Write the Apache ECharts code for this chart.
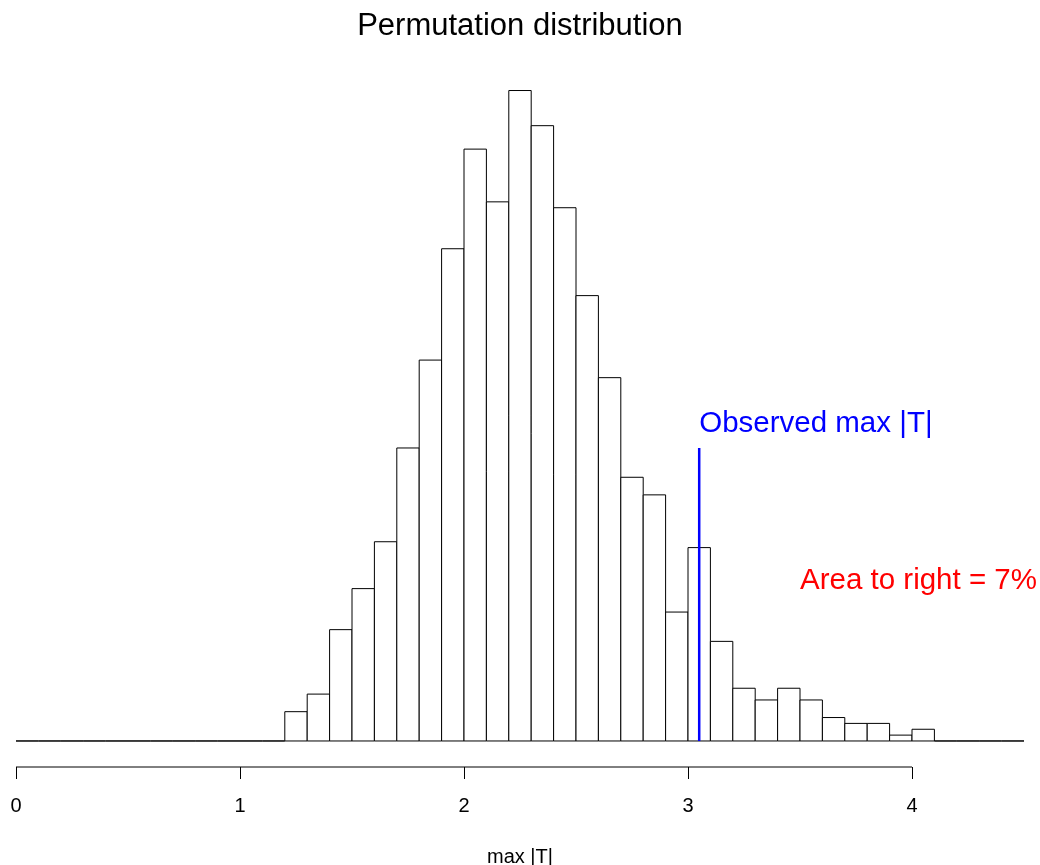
<!DOCTYPE html>
<html>
<head>
<meta charset="utf-8">
<script src="https://cdn.jsdelivr.net/npm/echarts@6/dist/echarts.min.js"></script>
<style>
html,body{margin:0;padding:0;background:#fff;}
#chart{width:1040px;height:865px;}
</style>
</head>
<body>
<div id="chart"></div>
<script>
// ---- data ----
var binStarts = [0.0,0.1,0.2,0.3,0.4,0.5,0.6,0.7,0.8,0.9,
                 1.0,1.1,1.2,1.3,1.4,1.5,1.6,1.7,1.8,1.9,
                 2.0,2.1,2.2,2.3,2.4,2.5,2.6,2.7,2.8,2.9,
                 3.0,3.1,3.2,3.3,3.4,3.5,3.6,3.7,3.8,3.9,
                 4.0,4.1,4.2,4.3,4.4];
var counts = [0,0,0,0,0,0,0,0,0,0,
              0,0,5,8,19,26,34,50,65,84,
              101,92,111,105,91,76,62,45,42,22,
              33,17,9,7,9,7,4,3,3,1,
              2,0,0,0,0];
var binWidth = 0.1;
var xTickValues = [0,1,2,3,4];
var observedMaxT = 3.05;
var observedLineHeight = 50;
var titleText = 'Permutation distribution';
var xAxisTitle = 'max |T|';
var observedLabel = 'Observed max |T|';
var areaLabel = 'Area to right = 7%';

// ---- chart ----
var FONT = '"Liberation Sans", Arial, Helvetica, sans-serif';
var yTop = Math.max.apply(null, counts);
var yMin = -0.04 * yTop, yMax = 1.04 * yTop;

var chart = echarts.init(document.getElementById('chart'), null, {renderer: 'canvas'});

var histData = binStarts.map(function (s, i) { return [s, counts[i]]; });

var option = {
  animation: false,
  backgroundColor: '#ffffff',
  title: {
    text: titleText,
    left: 515, top: 5.5,
    textAlign: 'center',
    textStyle: {fontFamily: FONT, fontSize: 31, fontWeight: 'normal', color: '#000'}
  },
  grid: {left: 16, top: 64.5, width: 1008, height: 702.5,
         containLabel: false, outerBoundsMode: 'none'},
  xAxis: {
    type: 'value', min: 0, max: 4.5,
    axisLine: {show: false, onZero: false},
    splitLine: {show: false},
    axisTick: {show: true, inside: false, length: 12, customValues: xTickValues,
               lineStyle: {color: '#000', width: 1}},
    axisLabel: {show: true, customValues: xTickValues, margin: 29,
                fontFamily: FONT, fontSize: 20, color: '#000'},
    name: xAxisTitle, nameLocation: 'middle', nameGap: 80,
    nameTextStyle: {fontFamily: FONT, fontSize: 20, color: '#000'}
  },
  yAxis: {
    type: 'value', min: yMin, max: yMax, show: false,
    splitLine: {show: false}
  },
  series: [
    {
      type: 'custom',
      data: histData,
      encode: {x: 0, y: 1},
      renderItem: function (params, api) {
        var x0 = api.value(0), c = api.value(1);
        var p0 = api.coord([x0, c]);
        var p1 = api.coord([x0 + binWidth, 0]);
        return {
          type: 'rect',
          shape: {x: p0[0], y: p0[1], width: p1[0] - p0[0], height: p1[1] - p0[1]},
          style: {fill: '#ffffff', stroke: '#000000', lineWidth: 1}
        };
      },
      z: 2
    },
    {
      // axis line spanning the tick range only
      type: 'line',
      data: [[xTickValues[0], yMin], [xTickValues[xTickValues.length - 1], yMin]],
      symbol: 'none',
      lineStyle: {color: '#000', width: 1},
      clip: false,
      silent: true,
      z: 3
    },
    {
      type: 'line',
      data: [[observedMaxT, 0], [observedMaxT, observedLineHeight]],
      symbol: 'none',
      lineStyle: {color: '#0000ff', width: 2.5},
      silent: true,
      z: 4
    },
    {
      type: 'custom',
      data: [[observedMaxT, 54.2, 0], [3.5, 27.4, 1]],
      encode: {x: 0, y: 1},
      renderItem: function (params, api) {
        var p = api.coord([api.value(0), api.value(1)]);
        var which = api.value(2);
        return {
          type: 'text',
          x: p[0], y: p[1],
          style: {
            text: which === 0 ? observedLabel : areaLabel,
            fill: which === 0 ? '#0000ff' : '#ff0000',
            font: '29.5px ' + FONT,
            align: 'left', verticalAlign: 'middle'
          }
        };
      },
      z: 5
    }
  ]
};
chart.setOption(option);
</script>
</body>
</html>
